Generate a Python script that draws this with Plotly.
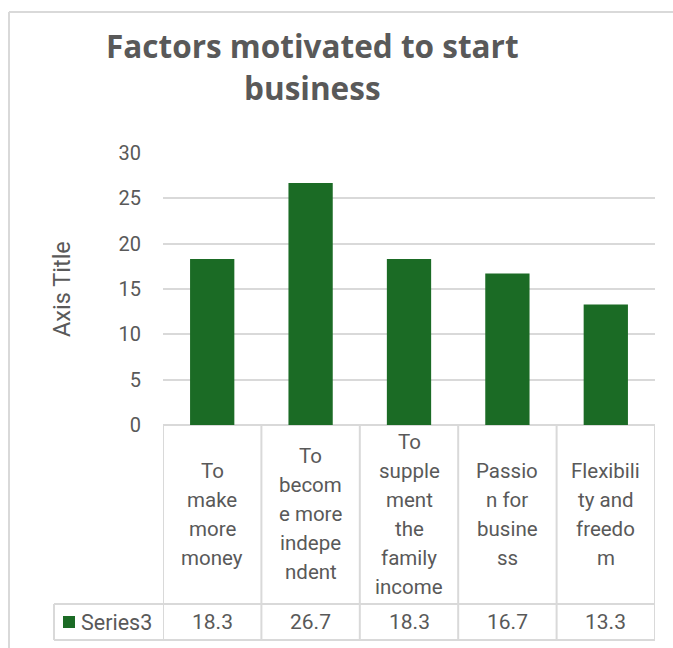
import plotly.graph_objects as go

# Data
categories = ["To make more money", "To become more independent",
              "To supplement the family income", "Passion for business",
              "Flexibility and freedom"]
category_lines = [
    ["To", "make", "more", "money"],
    ["To", "becom", "e more", "indepe", "ndent"],
    ["To", "supple", "ment", "the", "family", "income"],
    ["Passio", "n for", "busine", "ss"],
    ["Flexibili", "ty and", "freedo", "m"],
]
series_name = "Series3"
values = [18.3, 26.7, 18.3, 16.7, 13.3]
title_lines = ["Factors motivated to start", "business"]
y_ticks = [0, 5, 10, 15, 20, 25, 30]

W, H = 673, 648
L, R, T, B = 163, 18, 153, 223
PW, PH = W - L - R, H - T - B

GREEN = "#1b6b25"
TEXT = "#595959"
LINE = "#d9d9d9"
FONT = "Roboto, Liberation Sans, sans-serif"
TITLE_FONT = "Open Sans, Roboto, sans-serif"


def px_x(x):
    return (x - L) / PW


def px_y(y):
    return (H - B - y) / PH


fig = go.Figure()
fig.add_trace(go.Bar(
    x=list(range(len(categories))), y=values, name=series_name,
    marker=dict(color=GREEN, line=dict(width=0)), width=0.45,
    hovertext=categories,
))

shapes = []
annotations = []

# Chart frame (top and left edges)
shapes.append(dict(type="line", xref="paper", yref="paper",
                   x0=px_x(9), x1=px_x(W + 5), y0=px_y(12), y1=px_y(12),
                   line=dict(color=LINE, width=2)))
shapes.append(dict(type="line", xref="paper", yref="paper",
                   x0=px_x(9), x1=px_x(9), y0=px_y(12), y1=px_y(H + 5),
                   line=dict(color=LINE, width=2)))

# Data table grid
row_top, row_mid, row_bot = px_y(H - B), px_y(604), px_y(640)
tbl_left = px_x(54)
n = len(categories)
for i in range(n + 1):
    shapes.append(dict(type="line", xref="x", yref="paper",
                       x0=i - 0.5, x1=i - 0.5, y0=row_top, y1=row_bot,
                       line=dict(color=LINE, width=2)))
for yy in (row_mid, row_bot):
    shapes.append(dict(type="line", xref="paper", yref="paper",
                       x0=tbl_left, x1=1, y0=yy, y1=yy,
                       line=dict(color=LINE, width=2)))
shapes.append(dict(type="line", xref="paper", yref="paper",
                   x0=tbl_left, x1=tbl_left, y0=row_mid, y1=row_bot,
                   line=dict(color=LINE, width=2)))
# Legend key square
shapes.append(dict(type="rect", xref="paper", yref="paper",
                   x0=px_x(63), x1=px_x(75), y0=px_y(616), y1=px_y(628),
                   fillcolor=GREEN, line=dict(width=0)))

# Category labels, one annotation per wrapped line
line_gap = 29
cell_center = 514
for i, lines in enumerate(category_lines):
    k = len(lines)
    for j, txt in enumerate(lines):
        yc = cell_center + (j - (k - 1) / 2) * line_gap
        annotations.append(dict(x=i, xref="x", y=px_y(yc), yref="paper",
                                text=txt, showarrow=False,
                                font=dict(family=FONT, size=20.5, color=TEXT),
                                xanchor="center", yanchor="middle"))

# Value row
for i, v in enumerate(values):
    annotations.append(dict(x=i, xref="x", y=px_y(622), yref="paper",
                            text=f"{v:.1f}", showarrow=False,
                            font=dict(family=FONT, size=21, color=TEXT),
                            xanchor="center", yanchor="middle"))
annotations.append(dict(x=px_x(79), xref="paper", y=px_y(622), yref="paper",
                        text=series_name, showarrow=False,
                        font=dict(family=FONT, size=21.5, color=TEXT),
                        xanchor="left", yanchor="middle"))

# Axis title
annotations.append(dict(x=px_x(62), xref="paper", y=px_y(289), yref="paper",
                        text="Axis Title", showarrow=False, textangle=-90,
                        font=dict(family=FONT, size=23.5, color=TEXT),
                        xanchor="center", yanchor="middle"))

# Chart title
for txt, yc in zip(title_lines, (45, 88)):
    annotations.append(dict(x=px_x(312), xref="paper", y=px_y(yc), yref="paper",
                            text=f"<b>{txt}</b>", showarrow=False,
                            font=dict(family=TITLE_FONT, size=31.5, color=TEXT),
                            xanchor="center", yanchor="middle"))

fig.update_layout(
    width=W, height=H,
    margin=dict(l=L, r=R, t=T, b=B),
    paper_bgcolor="white", plot_bgcolor="white",
    showlegend=False,
    bargap=0.55,
    xaxis=dict(range=[-0.5, n - 0.5], showticklabels=False, showgrid=False,
               zeroline=False, showline=False, fixedrange=True),
    yaxis=dict(range=[0, 30], tickvals=y_ticks, showgrid=True,
               gridcolor=LINE, gridwidth=2, zeroline=True,
               zerolinecolor=LINE, zerolinewidth=2, showline=False,
               tickfont=dict(family=FONT, size=20, color=TEXT),
               ticklabelstandoff=21, fixedrange=True),
    shapes=shapes,
    annotations=annotations,
)

fig.write_html("out.html")
